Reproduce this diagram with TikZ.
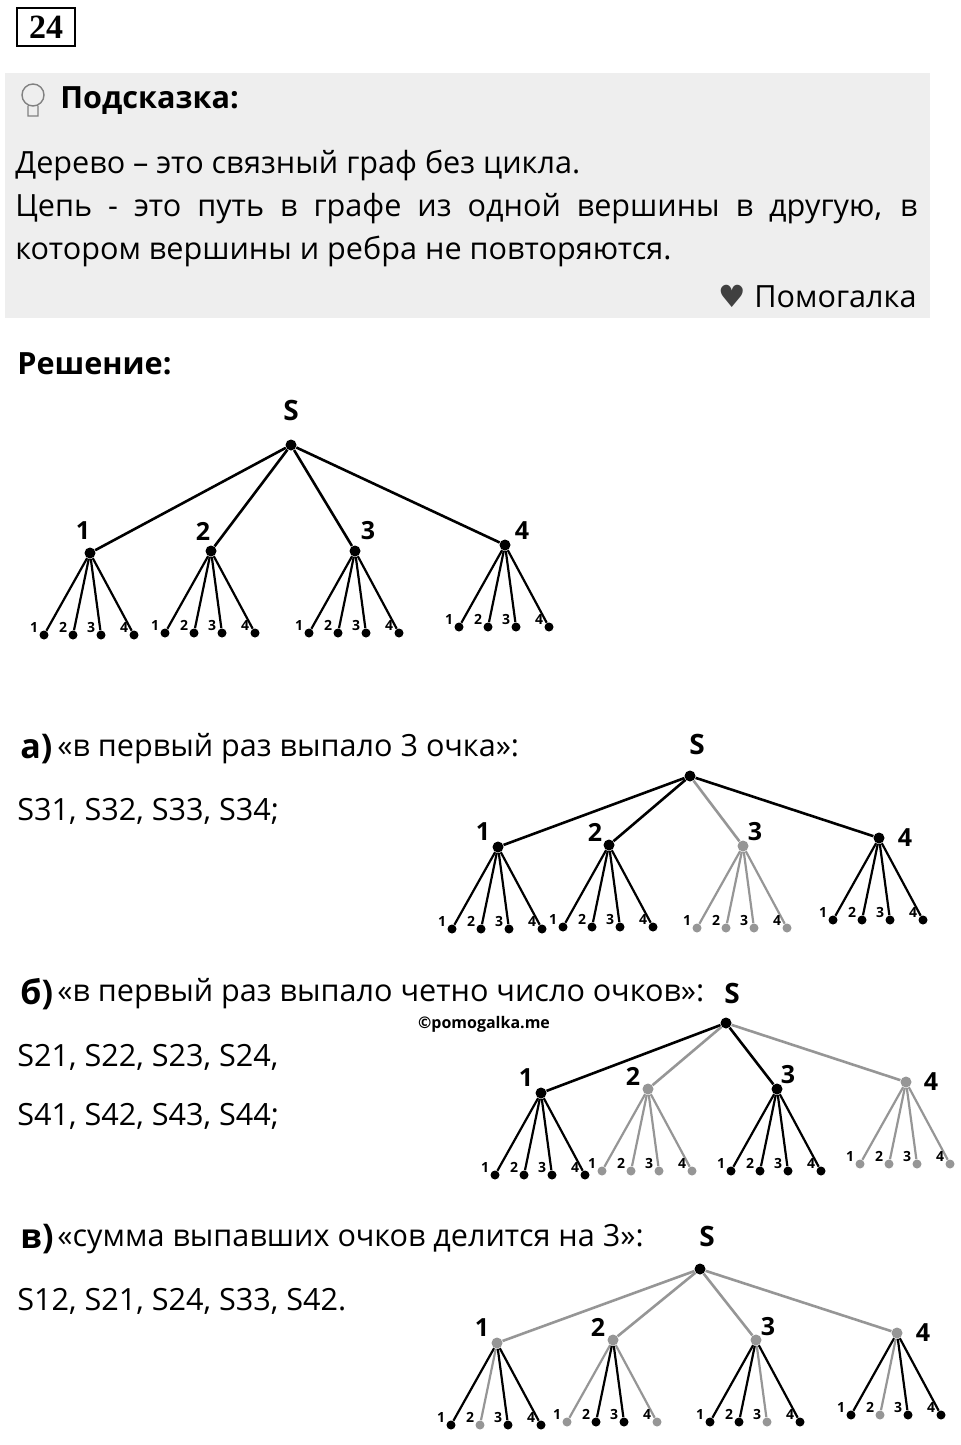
\documentclass[tikz,border=0pt]{standalone}
\usepackage{fontspec}
\setmainfont{Open Sans}
\newfontfamily\symfont{DejaVu Sans}
\newfontfamily\numfont{Liberation Serif}
\definecolor{hintgray}{RGB}{238,238,238}
\definecolor{edgegray}{RGB}{150,150,150}
\tikzset{
  vert/.style={circle, fill, inner sep=0pt, minimum size=5.5pt},
  leaf/.style={circle, fill, inner sep=0pt, minimum size=4.5pt},
  txt/.style={anchor=west, inner sep=0pt, font=\fontsize{15.3}{18}\selectfont},
  bold/.style={txt, font=\fontsize{15.3}{18}\selectfont\bfseries},
  item/.style={txt, font=\fontsize{17}{18}\selectfont\bfseries},
  lvl/.style={font=\fontsize{12.5}{14}\selectfont\bfseries, inner sep=0pt},
  root/.style={font=\fontsize{14}{16}\selectfont\bfseries, inner sep=0pt},
}
% \subtree{name}{x}{y}{vertex colour}{leaf colours c1/c2/c3/c4}
\newcommand{\subtree}[8]{
  \node[vert, #4] (#1) at (#2,#3) {};
  \foreach \dx/\k/\lc in {-46/1/#5, -17/2/#6, 11/3/#7, 44/4/#8}{
    \node[leaf, \lc] (#1l\k) at (#2+\dx,#3+82) {};
    \draw[\lc, line width=1.1pt] (#1) -- (#1l\k);
    \node[font=\fontsize{7}{8}\selectfont\bfseries, inner sep=0pt] at (#2+\dx-10,#3+74) {\k};
  }
}
\begin{document}
\begin{tikzpicture}[x=0.5pt, y=-0.5pt]
  \useasboundingbox (0,0) rectangle (960,1445);
  % header
  \node[draw, line width=1pt, inner sep=1pt, minimum width=29pt, minimum height=19pt,
        font=\numfont\fontsize{17}{18}\selectfont\bfseries] (num) at (46,27) {24};
  \fill[hintgray] (5,73) rectangle (930,318);
  \draw[gray, line width=0.7pt] (33,95) circle (11)
    (28,106) -- (28,116) -- (38,116) -- (38,106);
  \node[bold] (hint) at (60,101) {Подсказка:};
  \node[txt, anchor=north west, text width=451pt, align=justify,
        font=\fontsize{15.3}{21.5}\selectfont] (def) at (15,150)
    {Дерево – это связный граф без цикла.\\
     Цепь - это путь в графе из одной вершины в другую, в котором вершины и ребра не повторяются.};
  \node[txt, anchor=east] (help) at (917,297) {{\symfont\color{black!75}♥} Помогалка};
  \node[bold] (sol) at (17,364) {Решение:};

  % main tree
  \node[vert] (S0) at (291,445) {};
  \node[root] at (291,410) {S};
  \foreach \n/\x/\y/\lx/\ly in {1/90/553/-7/22, 2/211/551/-8/20, 3/355/551/13/20, 4/505/545/17/14}{
    \subtree{T\n}{\x}{\y}{black}{black}{black}{black}{black}
    \draw[line width=1.3pt] (S0) -- (T\n);
    \node[lvl] at (\x+\lx,\y-\ly) {\n};
  }

  % a)
  \node[item] (qa) at (20,749) {а)};
  \node[txt] at (57,749) {«в первый раз выпало 3 очка»:};
  \node[txt] (ansa) at (17,811) {S31, S32, S33, S34;};
  \node[vert] (Sa) at (690,776) {};
  \node[root] at (697,744) {S};
  \foreach \n/\x/\y/\col/\lx/\ly in {1/498/847/black/-15/15, 2/609/845/black/-14/13, 3/743/846/edgegray/12/14, 4/879/838/black/26/0}{
    \subtree{A\n}{\x}{\y}{\col}{\col}{\col}{\col}{\col}
    \draw[\col, line width=1.3pt] (Sa) -- (A\n);
    \node[lvl] at (\x+\lx,\y-\ly) {\n};
  }

  % b)
  \node[item] (qb) at (20,994) {б)};
  \node[txt] at (57,994) {«в первый раз выпало четно число очков»:};
  \node[font=\fontsize{8}{10}\selectfont\bfseries] (wm) at (484,1024) {©pomogalka.me};
  \node[txt] (ansb1) at (17,1057) {S21, S22, S23, S24,};
  \node[txt] (ansb2) at (17,1116) {S41, S42, S43, S44;};
  \node[vert] (Sb) at (726,1023) {};
  \node[root] at (732,993) {S};
  \foreach \n/\x/\y/\col/\lx/\ly in {1/541/1093/black/-15/15, 2/648/1089/edgegray/-15/13, 3/777/1089/black/11/14, 4/906/1082/edgegray/25/0}{
    \subtree{B\n}{\x}{\y}{\col}{\col}{\col}{\col}{\col}
    \draw[\col, line width=1.3pt] (Sb) -- (B\n);
    \node[lvl] at (\x+\lx,\y-\ly) {\n};
  }

  % c)
  \node[item] (qc) at (20,1239) {в)};
  \node[txt] at (57,1239) {«сумма выпавших очков делится на 3»:};
  \node[txt] (ansc) at (17,1301) {S12, S21, S24, S33, S42.};
  \node[vert] (Sc) at (700,1269) {};
  \node[root] at (707,1236) {S};
  \foreach \n/\x/\y/\lx/\ly/\ca/\cb/\cc/\cd in {1/497/1343/-15/15/black/edgegray/black/black,
    2/613/1340/-15/13/edgegray/black/black/edgegray, 3/756/1340/12/13/black/black/edgegray/black,
    4/897/1333/26/0/black/edgegray/black/black}{
    \subtree{C\n}{\x}{\y}{edgegray}{\ca}{\cb}{\cc}{\cd}
    \draw[edgegray, line width=1.3pt] (Sc) -- (C\n);
    \node[lvl] at (\x+\lx,\y-\ly) {\n};
  }
\end{tikzpicture}
\end{document}
